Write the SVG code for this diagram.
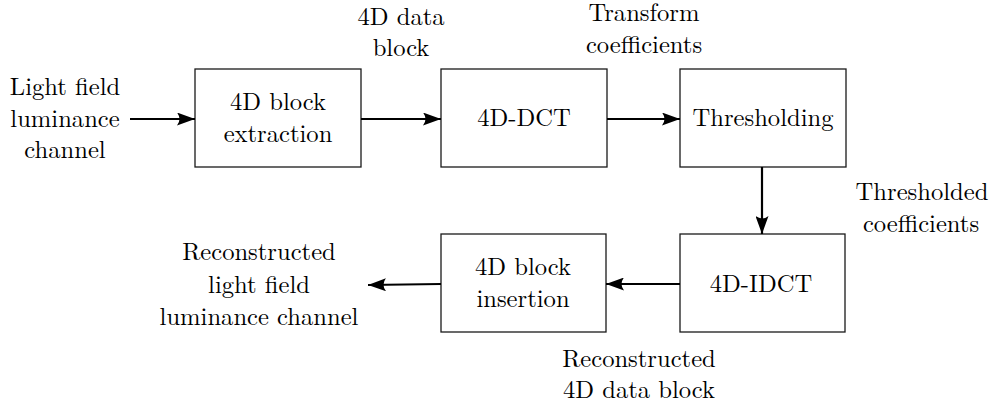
<svg xmlns="http://www.w3.org/2000/svg" width="989" height="403" viewBox="0 0 989 403">
  <style>
    .box { fill: #ffffff; stroke: #1a1a1a; stroke-width: 1.3; }
    .t { font-family: "Latin Modern Roman", "CMU Serif", "Liberation Serif", Tinos, "Noto Serif", "Times New Roman", serif; font-size: 24.6px; fill: #000000; text-anchor: middle; }
    .wire { stroke: #000000; stroke-width: 2.2; fill: none; marker-end: url(#head); }
  </style>
  <defs>
    <marker id="head" viewBox="0 0 18 13" refX="18" refY="6.5" markerWidth="18" markerHeight="13" markerUnits="userSpaceOnUse" orient="auto">
      <path d="M0,0 Q5,6.5 0,13 L18,6.5 Z" fill="#000000"/>
    </marker>
  </defs>

  <!-- free labels -->
  <g id="labels">
    <text class="t" x="65" y="95">Light field</text>
    <text class="t" x="65" y="127">luminance</text>
    <text class="t" x="65" y="158">channel</text>

    <text class="t" x="401" y="25">4D data</text>
    <text class="t" x="401" y="56">block</text>

    <text class="t" x="644" y="21">Transform</text>
    <text class="t" x="644" y="53">coefficients</text>

    <text class="t" x="922" y="200">Thresholded</text>
    <text class="t" x="921" y="232">coefficients</text>

    <text class="t" x="259" y="260">Reconstructed</text>
    <text class="t" x="259" y="293">light field</text>
    <text class="t" x="259" y="325">luminance channel</text>

    <text class="t" x="639" y="367">Reconstructed</text>
    <text class="t" x="639" y="398">4D data block</text>
  </g>

  <!-- processing blocks -->
  <g id="extraction">
    <rect class="box" x="195" y="69" width="166" height="98"/>
    <text class="t" x="278" y="110">4D block</text>
    <text class="t" x="278" y="142">extraction</text>
  </g>
  <g id="dct">
    <rect class="box" x="441" y="69" width="166" height="98"/>
    <text class="t" x="524" y="126">4D-DCT</text>
  </g>
  <g id="threshold">
    <rect class="box" x="680" y="69" width="166" height="98"/>
    <text class="t" x="763" y="126">Thresholding</text>
  </g>
  <g id="idct">
    <rect class="box" x="680" y="234" width="165" height="98"/>
    <text class="t" x="761" y="292">4D-IDCT</text>
  </g>
  <g id="insertion">
    <rect class="box" x="441" y="234" width="165" height="98"/>
    <text class="t" x="523" y="275">4D block</text>
    <text class="t" x="523" y="307">insertion</text>
  </g>

  <!-- data flow -->
  <g id="connectors">
    <line class="wire" x1="130" y1="119" x2="195" y2="119"/>
    <line class="wire" x1="361" y1="119" x2="441" y2="119"/>
    <line class="wire" x1="607" y1="119" x2="680" y2="119"/>
    <line class="wire" x1="762" y1="167" x2="762" y2="234"/>
    <line class="wire" x1="680" y1="284" x2="606" y2="284"/>
    <line class="wire" x1="441" y1="284" x2="368" y2="285"/>
  </g>
</svg>
